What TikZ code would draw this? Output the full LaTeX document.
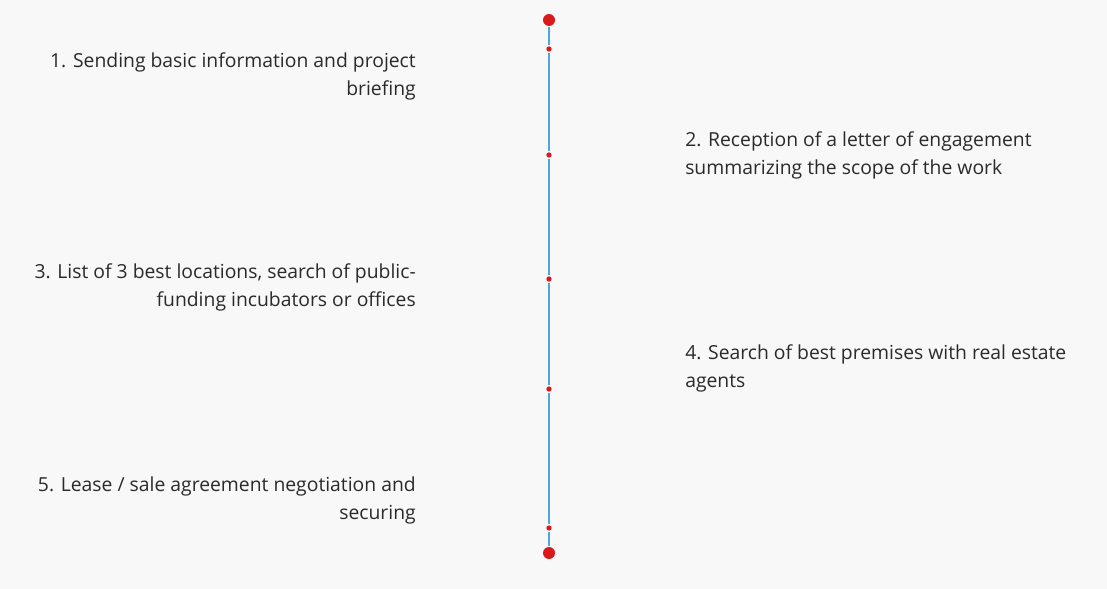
\documentclass[tikz,border=0pt]{standalone}
\usepackage{fontspec}
\setmainfont{Open Sans}
\usetikzlibrary{positioning}
\definecolor{bgcol}{HTML}{F8F8F8}
\definecolor{linecol}{HTML}{4DA6DC}
\definecolor{dotcol}{HTML}{D9191A}
\definecolor{txtcol}{HTML}{2A2A2A}
\begin{document}
\begin{tikzpicture}[x=0.75pt,y=-0.75pt,
                    bigdot/.style={circle,fill=dotcol,inner sep=0pt,minimum size=9pt,outer sep=0.5pt},
                    smalldot/.style={circle,fill=dotcol,inner sep=0pt,minimum size=4pt,outer sep=1pt},
                    step txt/.style={font=\fontsize{14.5}{21}\selectfont,text=txtcol,inner sep=0pt}]
\fill[bgcol] (0,0) rectangle (1107,589);
\useasboundingbox (0,0) rectangle (1107,589);

\node[bigdot] (top) at (549,20) {};
\node[smalldot] (d1) at (549,49) {};
\node[smalldot] (d2) at (549,155) {};
\node[smalldot] (d3) at (549,279) {};
\node[smalldot] (d4) at (549,389) {};
\node[smalldot] (d5) at (549,528) {};
\node[bigdot] (bottom) at (549,553) {};

% base anchor sits on the last line
\node[step txt,align=right,anchor=base east] (s1) at (416,95) {1. Sending basic information and project\\briefing};
\node[step txt,align=left,anchor=base west] (s2) at (685,174) {2. Reception of a letter of engagement\\summarizing the scope of the work};
\node[step txt,align=right,anchor=base east] (s3) at (416,306) {3. List of 3 best locations, search of public-\\funding incubators or offices};
\node[step txt,align=left,anchor=base west] (s4) at (685,387) {4. Search of best premises with real estate\\agents};
\node[step txt,align=right,anchor=base east] (s5) at (416,519) {5. Lease / sale agreement negotiation and\\securing};

 \path[draw=linecol,line width=1.5pt]
    (top) edge (d1)
    (d1) edge (d2)
    (d2) edge (d3)
    (d3) edge (d4)
    (d4) edge (d5)
    (d5) edge (bottom);
\end{tikzpicture}
\end{document}
